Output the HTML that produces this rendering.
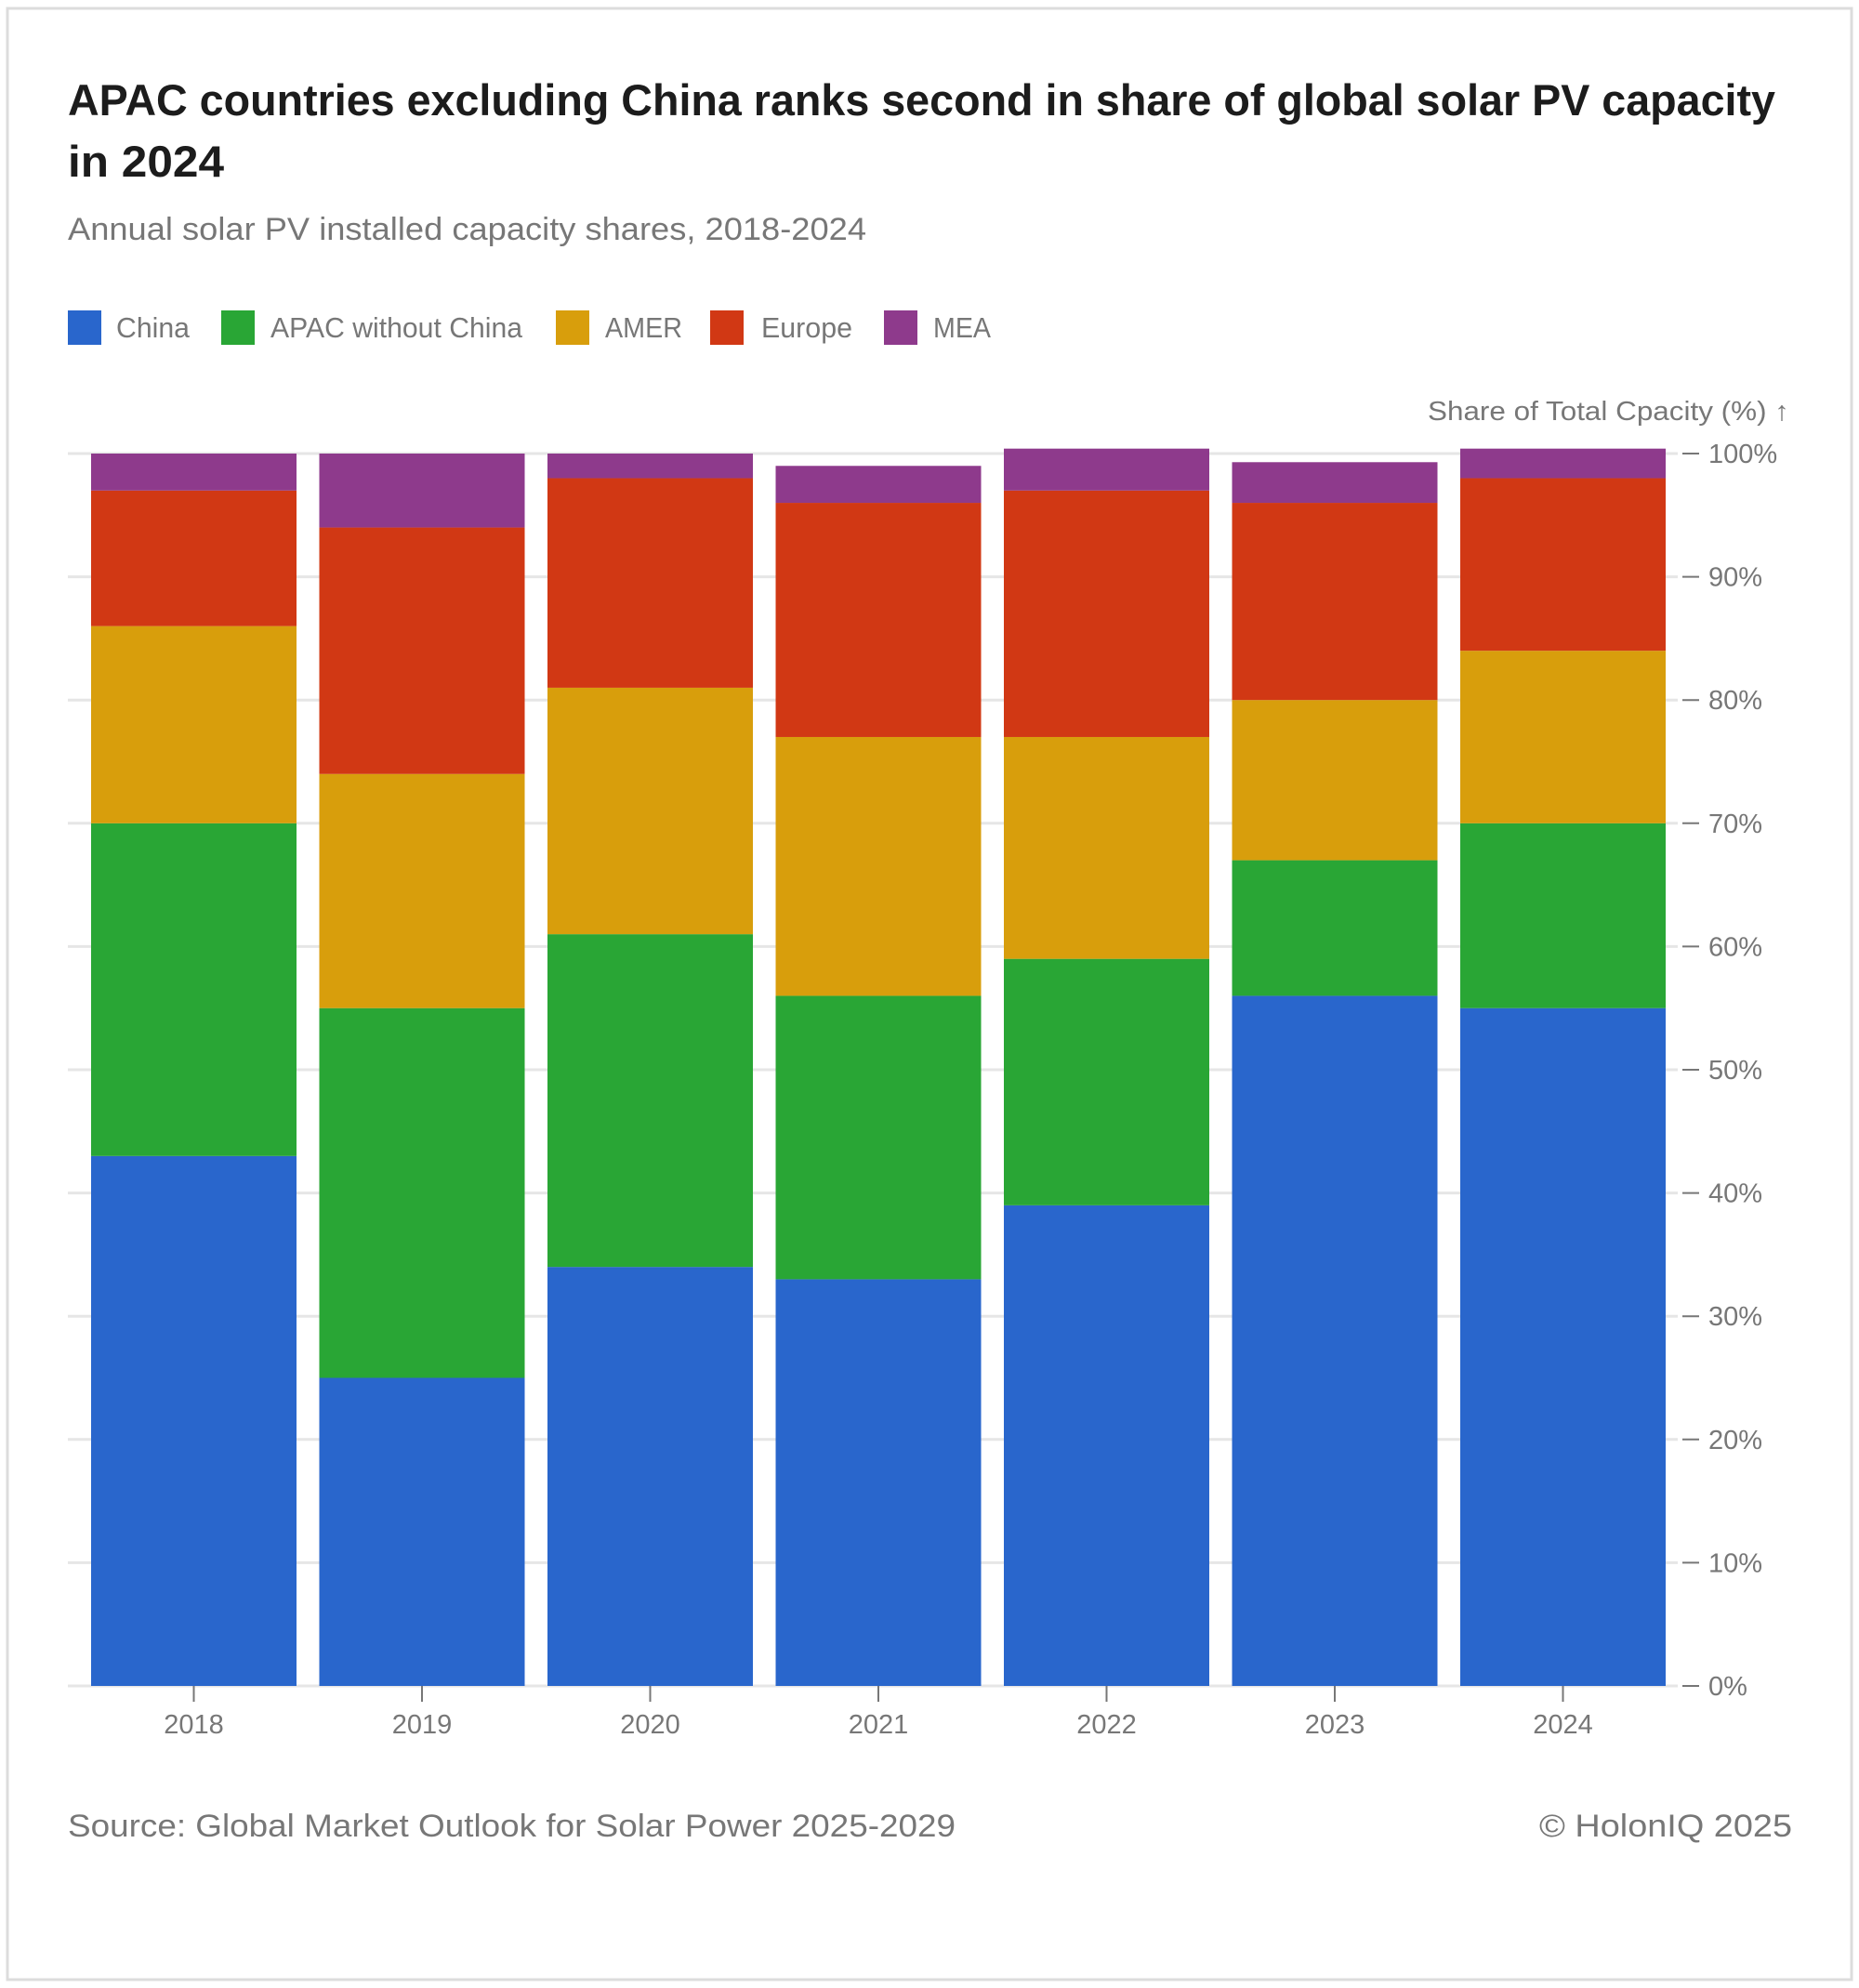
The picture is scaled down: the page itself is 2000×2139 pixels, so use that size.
<!DOCTYPE html>
<html><head><meta charset="utf-8"><style>
html,body{margin:0;padding:0;background:#fff;}
svg{display:block;font-family:"Liberation Sans",sans-serif;}
</style></head><body>
<svg id="chart" width="2000" height="2139" viewBox="0 0 2000 2139">
<rect x="8" y="9" width="1984" height="2121" fill="#fff" stroke="#dcdcdc" stroke-width="3"/>
<text x="73" y="124" font-size="47" font-weight="bold" fill="#1c1c1c" textLength="1837" lengthAdjust="spacingAndGlyphs">APAC countries excluding China ranks second in share of global solar PV capacity</text>
<text x="73" y="190" font-size="47" font-weight="bold" fill="#1c1c1c" textLength="168" lengthAdjust="spacingAndGlyphs">in 2024</text>
<text x="73" y="258" font-size="34" fill="#777" textLength="859" lengthAdjust="spacingAndGlyphs">Annual solar PV installed capacity shares, 2018-2024</text>
<g id="legend"></g>
<text x="1925" y="452" font-size="29" fill="#777" text-anchor="end" textLength="389" lengthAdjust="spacingAndGlyphs">Share of Total Cpacity (%) ↑</text>
<g id="grid"></g>
<g id="bars"></g>
<g id="xaxis"></g>
<text x="73" y="1976" font-size="34" fill="#777" textLength="955" lengthAdjust="spacingAndGlyphs">Source: Global Market Outlook for Solar Power 2025-2029</text>
<text x="1928" y="1976" font-size="34" fill="#777" text-anchor="end" textLength="272" lengthAdjust="spacingAndGlyphs">© HolonIQ 2025</text>
</svg>
<script>
const categories = ["2018","2019","2020","2021","2022","2023","2024"];
const china = [43,25,34,33,39,56,55];
const apac = [27,30,27,23,20,11,15];
const amer = [16,19,20,21,18,13,14];
const europe = [11,20,17,19,20,16,14];
const mea = [3,6,2,3,3.4,3.3,2.4];
const seriesNames = ["China","APAC without China","AMER","Europe","MEA"];
const yTicks = [0,10,20,30,40,50,60,70,80,90,100];

const colors = ["#2966cc","#29a635","#d89e0c","#d13814","#8e3a8c"];
const series = [china, apac, amer, europe, mea];
const NS = "http://www.w3.org/2000/svg";
const y0 = 1814, y100 = 488;
function yScale(v){ return y0 - (y0 - y100) * v / 100; }
const firstCenter = 208.5, step = 245.5, barW = 221;
function xCenter(i){ return firstCenter + i * step; }
function mk(tag, attrs, parent){ const e = document.createElementNS(NS, tag); for (const k in attrs) e.setAttribute(k, attrs[k]); parent.appendChild(e); return e; }

const grid = document.getElementById('grid');
yTicks.forEach(t => {
  const y = yScale(t);
  const l = mk('line', {x1:73, x2:1805, y1:y, y2:y, stroke:'#e6e6e6', 'stroke-width':3}, grid);
  
  
  const tk = mk('line', {x1:1810, x2:1828, y1:y, y2:y, stroke:'#777', 'stroke-width':2}, grid);
  
  
  const tx = mk('text', {x:1838, y:y + 10, 'font-size':29, fill:'#777'}, grid);
  tx.textContent = t + '%';
  
  
});

const bars = document.getElementById('bars');
categories.forEach((c, i) => {
  let cum = 0;
  series.forEach((s, k) => {
    const top = yScale(cum + s[i]), bot = yScale(cum);
    const r = mk('rect', {x: xCenter(i) - barW/2, y: top, width: barW, height: bot - top, fill: colors[k]}, bars);
    
    
    cum += s[i];
  });
});

const xaxis = document.getElementById('xaxis');
categories.forEach((c, i) => {
  const x = xCenter(i);
  const tk = mk('line', {x1:x, x2:x, y1:y0, y2:1831, stroke:'#777', 'stroke-width':2}, xaxis);
  
  
  const t = mk('text', {x:x, y:1865, 'font-size':29, fill:'#777', 'text-anchor':'middle'}, xaxis);
  t.textContent = c;
  
  
});

const legend = document.getElementById('legend');
const lgSq = [73, 238, 598, 764, 951];
const lgTx = [125, 291, 651, 819, 1004];
const lgW = [79, 271, 83, 98, 62];
seriesNames.forEach((n, k) => {
  const sq = mk('rect', {x: lgSq[k], y: 334, width: 36, height: 37, fill: colors[k]}, legend);
  
  
  const t = mk('text', {x: lgTx[k], y: 363, 'font-size': 31, fill: '#777', textLength: lgW[k], lengthAdjust: 'spacingAndGlyphs'}, legend);
  t.textContent = n;
  
  
});
</script>
</body></html>
